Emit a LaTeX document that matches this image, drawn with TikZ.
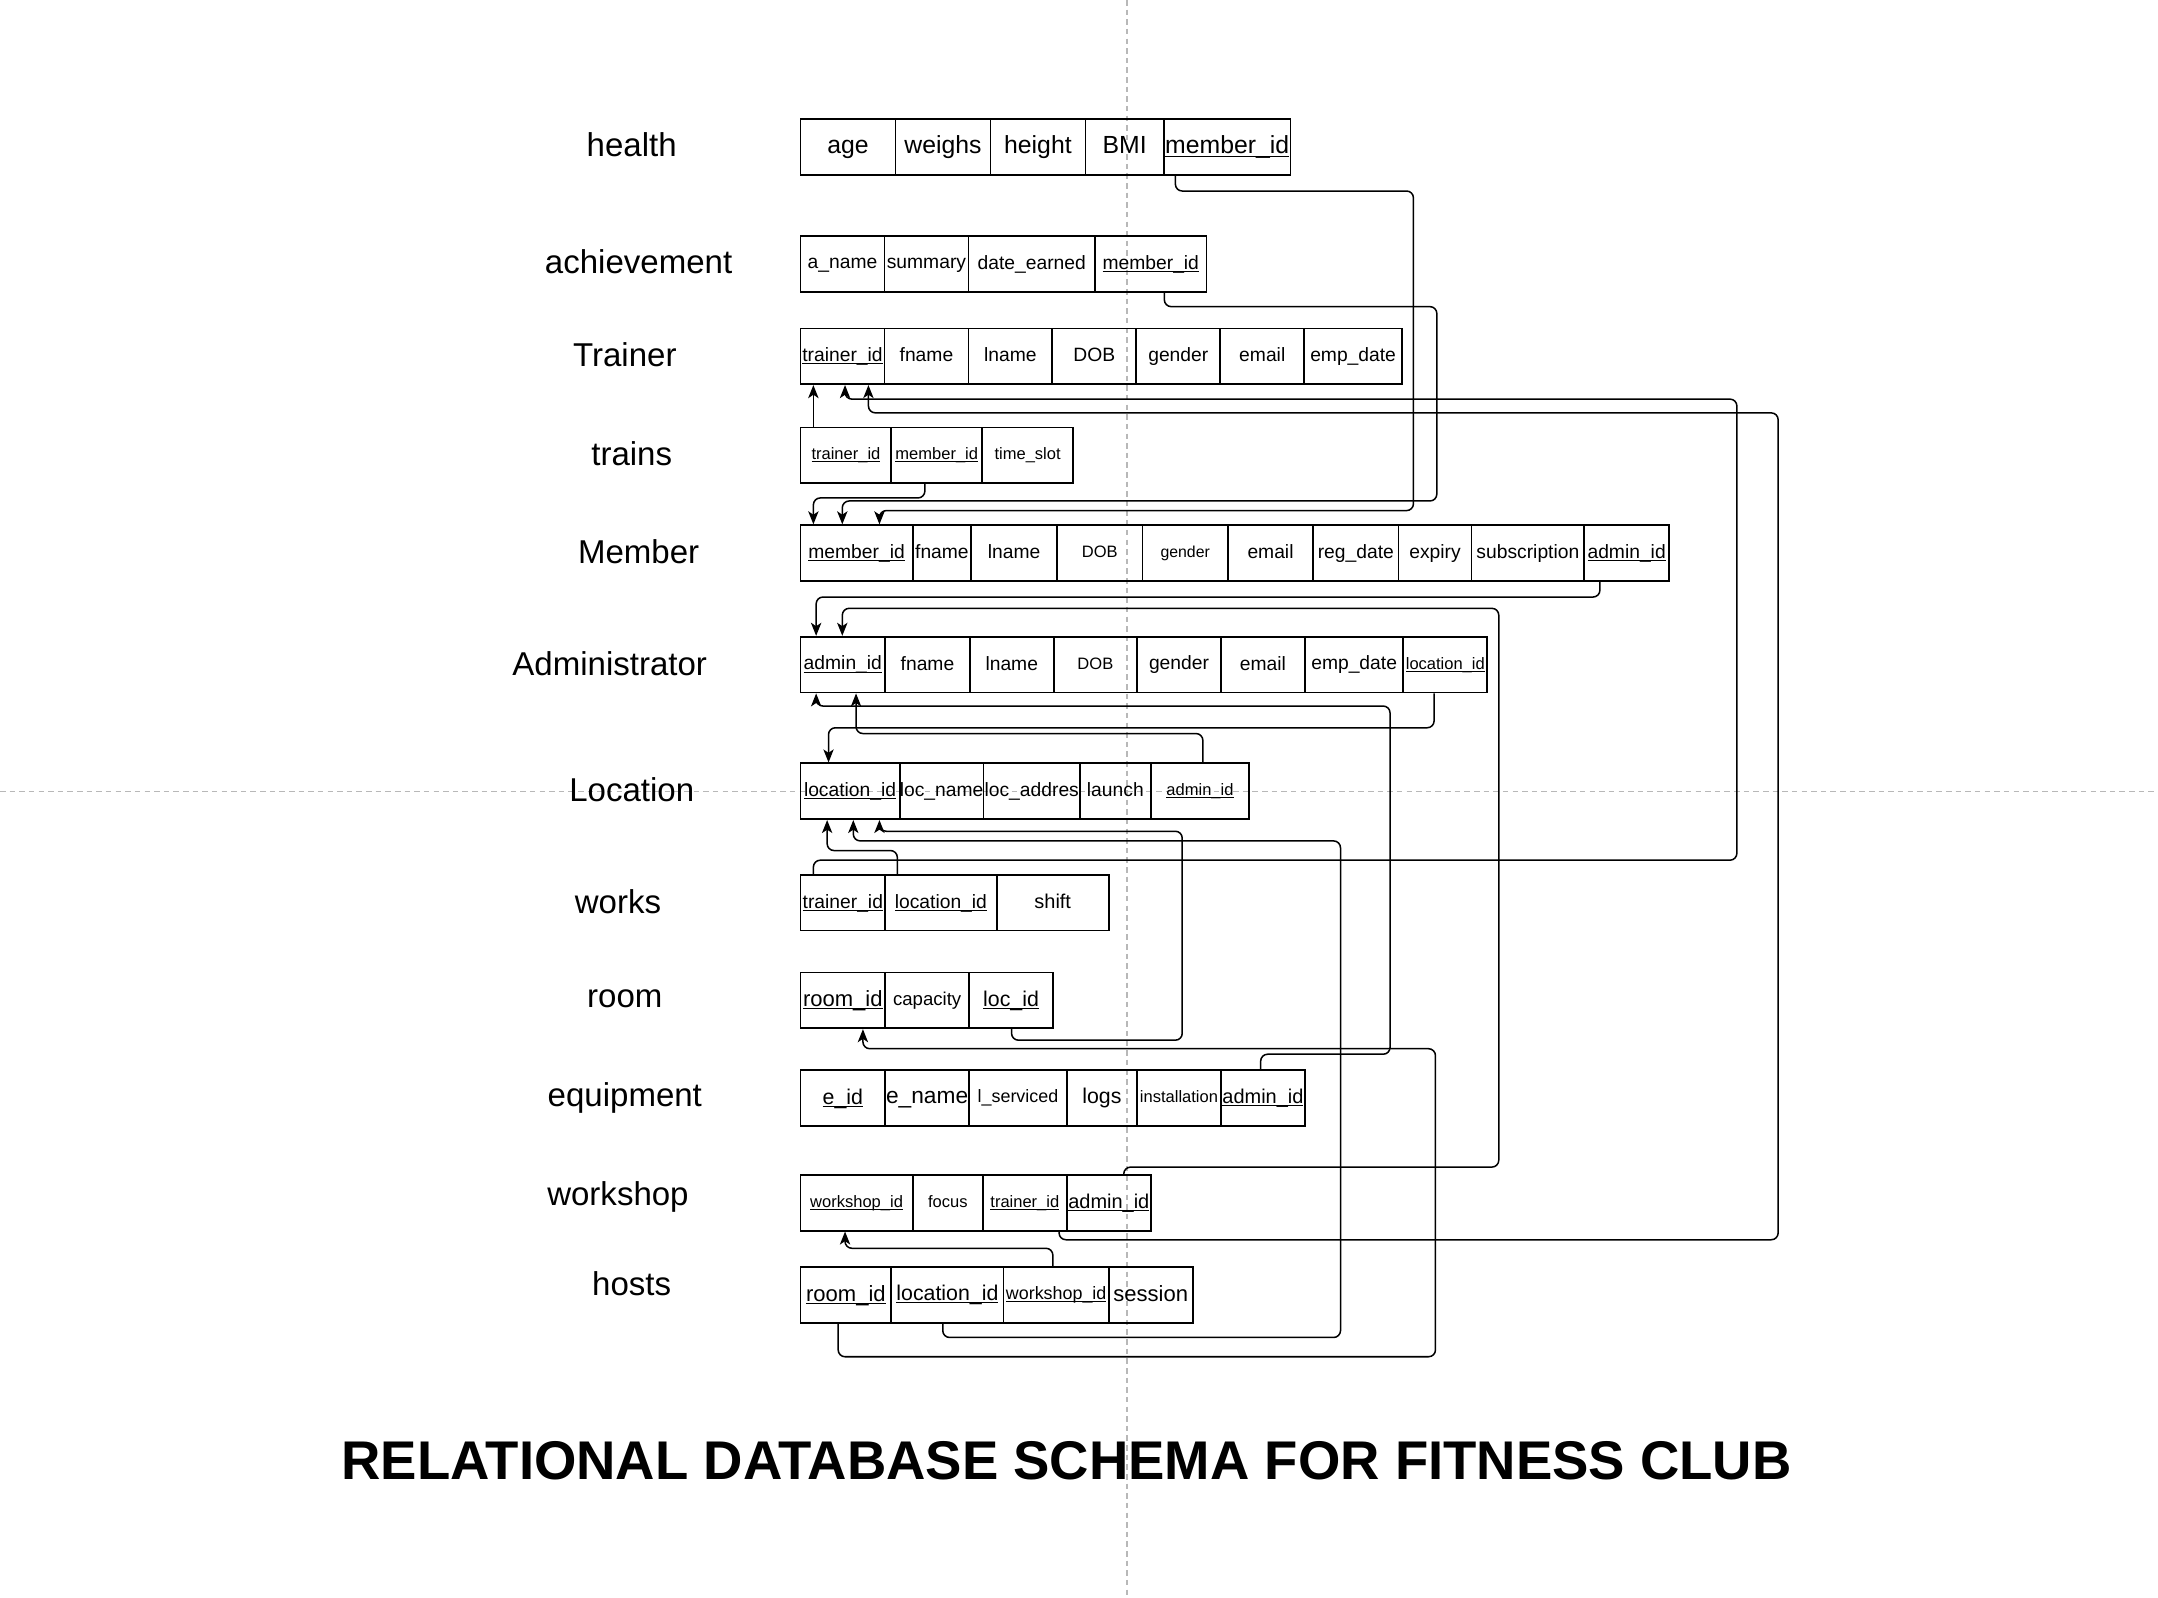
\documentclass[tikz,border=0pt]{standalone}
\usepackage{fontspec}
\setmainfont{Liberation Sans}
\usetikzlibrary{arrows.meta}
\newcommand\ulx[1]{\underline{\smash{#1}}}
\newcommand\cell[6]{\node[cell,minimum width={(#3)-(#2)},font=\fontsize{#5}{#5}\selectfont] (#1) at (#2,#4) {\makebox[0pt]{\rule[-0.15em]{0pt}{0.85em}#6}};}
\tikzset{
  cell/.style={draw, line width=1.3pt, anchor=north west, inner sep=0pt, minimum height=40.5},
  lbl/.style={font=\fontsize{24}{24}\selectfont, inner sep=0pt},
  fk/.style={draw, line width=1.1pt, rounded corners=5pt, -{Stealth[length=9.5pt,width=7.5pt,inset=2.5pt]}},
  guide/.style={draw=black!28, line width=1pt, dash pattern=on 4pt off 3pt}
}
\begin{document}
\begin{tikzpicture}[x=1pt,y=-1pt]
\fill[white] (0,0) rectangle (1568,1161);
\useasboundingbox (0,0) rectangle (1568,1161);
\draw[guide] (819,0) -- (819,1161);
\draw[guide] (0,575) -- (1568,575);

% labels
\node[lbl] (lab-health) at (459,105) {health};
\node[lbl] (lab-ach) at (464,190) {achievement};
\node[lbl] (lab-trainer) at (454,258) {Trainer};
\node[lbl] (lab-trains) at (459,330) {trains};
\node[lbl] (lab-member) at (464,401) {Member};
\node[lbl] (lab-admin) at (443,482) {Administrator};
\node[lbl] (lab-loc) at (459,574) {Location};
\node[lbl] (lab-works) at (449,655) {works};
\node[lbl] (lab-room) at (454,726) {room};
\node[lbl] (lab-equip) at (454,798) {equipment};
\node[lbl] (lab-workshop) at (449,870) {workshop};
\node[lbl] (lab-hosts) at (459,933) {hosts};

% health
\cell{h-age}{581}{650}{86}{18}{age}
\cell{h-weighs}{650}{719}{86}{18}{weighs}
\cell{h-height}{719}{788}{86}{18}{height}
\cell{h-bmi}{788}{845}{86}{18}{BMI}
\cell{h-mid}{845}{937}{86}{18}{\ulx{member\_id}}
% achievement
\cell{a-name}{581}{642}{171}{14}{a\_name}
\cell{a-summary}{642}{703}{171}{14}{summary}
\cell{a-date}{703}{795}{171}{14}{date\_earned}
\cell{a-mid}{795}{876}{171}{14}{\ulx{member\_id}}
% Trainer
\cell{t-id}{581}{642}{238}{14}{\ulx{trainer\_id}}
\cell{t-fname}{642}{703}{238}{14}{fname}
\cell{t-lname}{703}{764}{238}{14}{lname}
\cell{t-dob}{764}{825}{238}{14}{DOB}
\cell{t-gender}{825}{886}{238}{14}{gender}
\cell{t-email}{886}{947}{238}{14}{email}
\cell{t-emp}{947}{1018}{238}{14}{emp\_date}
% trains
\cell{tr-tid}{581}{647}{310}{12}{\ulx{trainer\_id}}
\cell{tr-mid}{647}{713}{310}{12}{\ulx{member\_id}}
\cell{tr-slot}{713}{779}{310}{12}{time\_slot}
% Member
\cell{m-id}{581}{662.5}{381}{14}{\ulx{member\_id}}
\cell{m-fname}{662.5}{705}{381}{14}{fname}
\cell{m-lname}{705}{767.5}{381}{14}{lname}
\cell{m-dob}{767.5}{829.5}{381}{12}{DOB}
\cell{m-gender}{829.5}{891.5}{381}{11.5}{gender}
\cell{m-email}{891.5}{953.5}{381}{14}{email}
\cell{m-reg}{953.5}{1015.5}{381}{14}{reg\_date}
\cell{m-exp}{1015.5}{1068.5}{381}{14}{expiry}
\cell{m-sub}{1068.5}{1150.5}{381}{14}{subscription}
\cell{m-aid}{1150.5}{1212}{381}{14}{\ulx{admin\_id}}
% Administrator
\cell{ad-id}{581}{642.5}{462}{14}{\ulx{admin\_id}}
\cell{ad-fname}{642.5}{704}{462}{14}{fname}
\cell{ad-lname}{704}{765}{462}{14}{lname}
\cell{ad-dob}{765}{825.5}{462}{12}{DOB}
\cell{ad-gender}{825.5}{886.5}{462}{14}{gender}
\cell{ad-email}{886.5}{947.5}{462}{14}{email}
\cell{ad-emp}{947.5}{1019}{462}{14}{emp\_date}
\cell{ad-lid}{1019}{1080}{462}{12}{\ulx{location\_id}}
% Location
\cell{l-id}{581}{653}{554}{14}{\ulx{location\_id}}
\cell{l-name}{653}{714}{554}{14}{loc\_name}
\cell{l-addr}{714}{784}{554}{14}{loc\_addres}
\cell{l-launch}{784}{835.5}{554}{14}{launch}
\cell{l-aid}{835.5}{907}{554}{12}{\ulx{admin\_id}}
% works
\cell{w-tid}{581}{642.5}{635}{14}{\ulx{trainer\_id}}
\cell{w-lid}{642.5}{723.5}{635}{14}{\ulx{location\_id}}
\cell{w-shift}{723.5}{805}{635}{14.5}{shift}
% room
\cell{r-id}{581}{642.5}{706}{16}{\ulx{room\_id}}
\cell{r-cap}{642.5}{703.5}{706}{13.5}{capacity}
\cell{r-lid}{703.5}{764.5}{706}{15.5}{\ulx{loc\_id}}
% equipment
\cell{e-id}{581}{642.5}{777}{15.5}{\ulx{e\_id}}
\cell{e-name}{642.5}{703.5}{777}{16.5}{e\_name}
\cell{e-serv}{703.5}{774.5}{777}{13}{l\_serviced}
\cell{e-logs}{774.5}{825.5}{777}{15.5}{logs}
\cell{e-inst}{825.5}{886.5}{777}{12}{installation}
\cell{e-aid}{886.5}{947.5}{777}{14.5}{\ulx{admin\_id}}
% workshop
\cell{ws-id}{581}{662.5}{853}{12}{\ulx{workshop\_id}}
\cell{ws-focus}{662.5}{713.5}{853}{12}{focus}
\cell{ws-tid}{713.5}{774.5}{853}{12}{\ulx{trainer\_id}}
\cell{ws-aid}{774.5}{835.5}{853}{14.5}{\ulx{admin\_id}}
% hosts
\cell{ho-rid}{581}{647}{920}{16}{\ulx{room\_id}}
\cell{ho-lid}{647}{728.5}{920}{15.5}{\ulx{location\_id}}
\cell{ho-wid}{728.5}{805}{920}{13}{\ulx{workshop\_id}}
\cell{ho-session}{805}{866}{920}{16}{session}

% title
\node[font=\fontsize{39.6}{40}\selectfont\bfseries, inner sep=0pt] (title) at (775,1061) {RELATIONAL DATABASE SCHEMA FOR FITNESS CLUB};

% connectors
\draw[fk] ([xshift=9pt]h-mid.south west) -- ++(0,11) -| (1027,371) -| ([xshift=58pt]m-id.north west);
\draw[fk] ([xshift=51pt]a-mid.south west) -- ++(0,10) -| (1044,364) -| ([xshift=31pt]m-id.north west);
\draw[fk] ([xshift=25pt]tr-mid.south west) -- ++(0,10) -| ([xshift=10pt]m-id.north west);
\draw[fk] ([xshift=10pt]tr-tid.north west) -- ([xshift=10pt]t-id.south west);
\draw[fk] ([xshift=10pt]w-tid.north west) -- ++(0,-10) -| (1262,290) -| ([xshift=33pt]t-id.south west);
\draw[fk] ([xshift=56pt]ws-tid.south west) -- ++(0,6) -| (1292,300) -| ([xshift=50pt]t-id.south west);
\draw[fk] ([xshift=12pt]m-aid.south west) -- ++(0,11) -| ([xshift=12pt]ad-id.north west);
\draw[fk] ([xshift=42pt]ws-aid.north west) -- ++(0,-5) -| (1089,442) -| ([xshift=31pt]ad-id.north west);
\draw[fk] ([xshift=23pt]ad-lid.south west) -- ++(0,25) -| ([xshift=21pt]l-id.north west);
\draw[fk] ([xshift=29.5pt]e-aid.north west) -- ++(0,-11) -| (1010,513) -| ([xshift=12pt]ad-id.south west);
\draw[fk] ([xshift=38.5pt]l-aid.north west) -- ++(0,-21) -| ([xshift=41pt]ad-id.south west);
\draw[fk] ([xshift=9.5pt]w-lid.north west) -- ++(0,-17) -| ([xshift=20pt]l-id.south west);
\draw[fk] ([xshift=38pt]ho-lid.south west) -- ++(0,10) -| (974,611) -| ([xshift=39pt]l-id.south west);
\draw[fk] ([xshift=31.5pt]r-lid.south west) -- ++(0,8) -| (859,604) -| ([xshift=58pt]l-id.south west);
\draw[fk] ([xshift=28pt]ho-rid.south west) -- ++(0,24) -| (1043,762) -| ([xshift=46pt]r-id.south west);
\draw[fk] ([xshift=36.5pt]ho-wid.north west) -- ++(0,-13) -| ([xshift=33pt]ws-id.south west);
\end{tikzpicture}
\end{document}
